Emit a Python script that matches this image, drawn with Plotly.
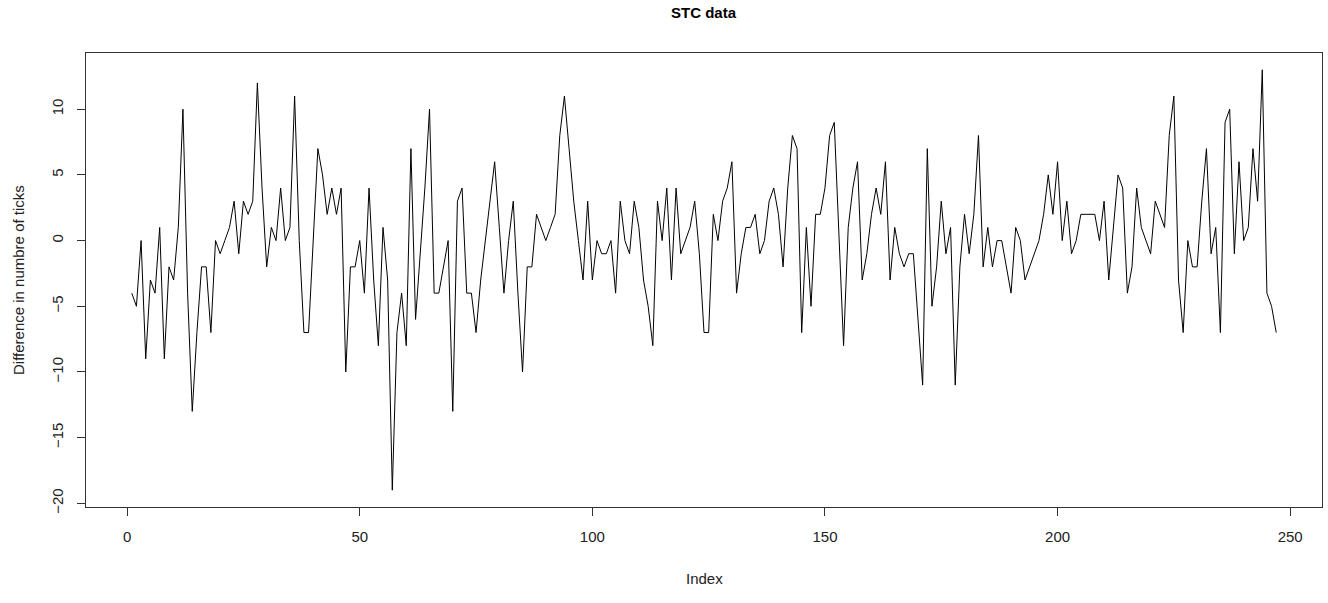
import plotly.graph_objects as go

index = list(range(1, 248))
diff_ticks = [
    -4, -5, 0, -9, -3, -4, 1, -9, -2, -3,
    1, 10, -4, -13, -7, -2, -2, -7, 0, -1,
    0, 1, 3, -1, 3, 2, 3, 12, 4, -2,
    1, 0, 4, 0, 1, 11, 0, -7, -7, 0,
    7, 5, 2, 4, 2, 4, -10, -2, -2, 0,
    -4, 4, -3, -8, 1, -3, -19, -7, -4, -8,
    7, -6, -1, 4, 10, -4, -4, -2, 0, -13,
    3, 4, -4, -4, -7, -3, 0, 3, 6, 1,
    -4, 0, 3, -4, -10, -2, -2, 2, 1, 0,
    1, 2, 8, 11, 7, 3, 0, -3, 3, -3,
    0, -1, -1, 0, -4, 3, 0, -1, 3, 1,
    -3, -5, -8, 3, 0, 4, -3, 4, -1, 0,
    1, 3, -1, -7, -7, 2, 0, 3, 4, 6,
    -4, -1, 1, 1, 2, -1, 0, 3, 4, 2,
    -2, 4, 8, 7, -7, 1, -5, 2, 2, 4,
    8, 9, 1, -8, 1, 4, 6, -3, -1, 2,
    4, 2, 6, -3, 1, -1, -2, -1, -1, -6,
    -11, 7, -5, -2, 3, -1, 1, -11, -2, 2,
    -1, 2, 8, -2, 1, -2, 0, 0, -2, -4,
    1, 0, -3, -2, -1, 0, 2, 5, 2, 6,
    0, 3, -1, 0, 2, 2, 2, 2, 0, 3,
    -3, 1, 5, 4, -4, -2, 4, 1, 0, -1,
    3, 2, 1, 8, 11, -3, -7, 0, -2, -2,
    3, 7, -1, 1, -7, 9, 10, -1, 6, 0,
    1, 7, 3, 13, -4, -5, -7,
]

x_ticks = [0, 50, 100, 150, 200, 250]
y_ticks = [-20, -15, -10, -5, 0, 5, 10]

title_text = "STC data"
x_label = "Index"
y_label = "Difference in numbre of ticks"

FONT = "Liberation Sans, Arial, sans-serif"

fig = go.Figure()
fig.add_trace(go.Scatter(
    x=index, y=diff_ticks, mode="lines",
    line=dict(color="black", width=1),
    hoverinfo="x+y", showlegend=False,
))

xmin, xmax = min(index), max(index)
ymin, ymax = min(diff_ticks), max(diff_ticks)
xpad = (xmax - xmin) * 0.04
ypad = (ymax - ymin) * 0.04

axis_common = dict(
    showgrid=False, zeroline=False,
    showline=True, linecolor="#333333", linewidth=1, mirror=True,
    ticks="outside", ticklen=8, tickcolor="#333333", tickwidth=1,
    tickfont=dict(family=FONT, size=15, color="#222222"),
)

fig.update_layout(
    width=1328, height=603,
    margin=dict(l=86, r=6, t=53, b=96),
    paper_bgcolor="white", plot_bgcolor="white",
    font=dict(family=FONT, color="#222222"),
    xaxis=dict(range=[xmin - xpad, xmax + xpad], tickvals=x_ticks,
               ticklabelstandoff=8, **axis_common),
    yaxis=dict(range=[ymin - ypad, ymax + ypad], tickvals=y_ticks, tickangle=-90,
               ticklabelstandoff=8, **axis_common),
    annotations=[
        dict(text="<b>" + title_text + "</b>", x=0.5, y=1, xref="paper", yref="paper",
             yshift=41, yanchor="middle", xanchor="center", showarrow=False,
             font=dict(family=FONT, size=15, color="black")),
        dict(text=x_label, x=0.5, xref="paper", yref="paper", y=0,
             yshift=-71, showarrow=False, xanchor="center", yanchor="middle",
             font=dict(family=FONT, size=15, color="#222222")),
        dict(text=y_label, x=0, xref="paper", yref="paper", y=0.5,
             xshift=-68, showarrow=False, textangle=-90, xanchor="center", yanchor="middle",
             font=dict(family=FONT, size=15, color="#222222")),
    ],
)

fig.write_html(
    "out.html",
    config={"displayModeBar": False},
    post_script="document.body.style.margin='0';document.body.style.padding='0';",
)
